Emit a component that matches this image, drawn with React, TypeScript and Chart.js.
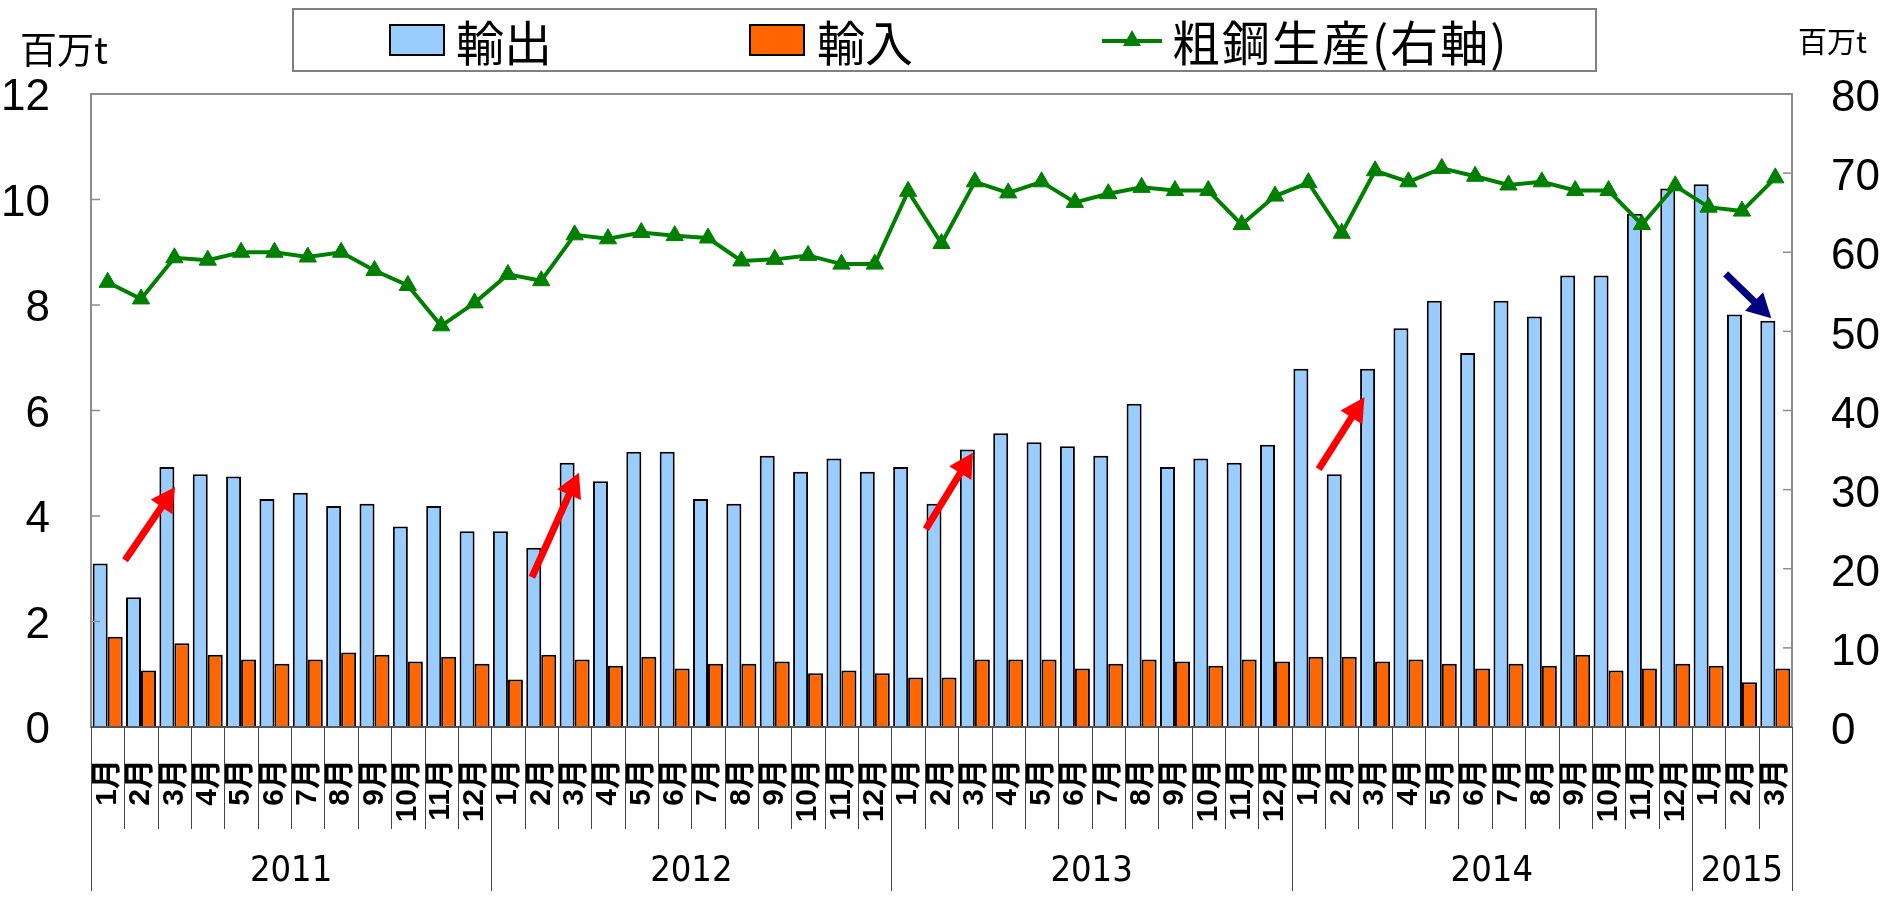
import React, { useEffect, useRef } from "react";
import { Chart, registerables } from "chart.js";

Chart.register(...registerables);

// ---------- data ----------
const monthLabels = [
  "1月", "2月", "3月", "4月", "5月", "6月", "7月", "8月", "9月", "10月", "11月", "12月",
  "1月", "2月", "3月", "4月", "5月", "6月", "7月", "8月", "9月", "10月", "11月", "12月",
  "1月", "2月", "3月", "4月", "5月", "6月", "7月", "8月", "9月", "10月", "11月", "12月",
  "1月", "2月", "3月", "4月", "5月", "6月", "7月", "8月", "9月", "10月", "11月", "12月",
  "1月", "2月", "3月",
];
const yearLabels = ["2011", "2012", "2013", "2014", "2015"];
const monthsInYear = [12, 12, 12, 12, 3];

const exportsData = [
  3.10, 2.46, 4.93, 4.79, 4.75, 4.32, 4.44, 4.19, 4.23, 3.80, 4.19, 3.71,
  3.71, 3.40, 5.01, 4.66, 5.22, 5.22, 4.32, 4.23, 5.14, 4.84, 5.09, 4.84,
  4.93, 4.23, 5.26, 5.57, 5.40, 5.32, 5.14, 6.13, 4.93, 5.09, 5.01, 5.35,
  6.79, 4.79, 6.79, 7.56, 8.08, 7.09, 8.08, 7.78, 8.56, 8.56, 9.73, 10.21,
  10.29, 7.82, 7.70,
];
const importsData = [
  1.71, 1.07, 1.59, 1.37, 1.28, 1.20, 1.28, 1.41, 1.37, 1.24, 1.33, 1.20,
  0.90, 1.37, 1.28, 1.16, 1.33, 1.11, 1.20, 1.20, 1.24, 1.02, 1.07, 1.02,
  0.94, 0.94, 1.28, 1.28, 1.28, 1.11, 1.20, 1.28, 1.24, 1.16, 1.28, 1.24,
  1.33, 1.33, 1.24, 1.28, 1.20, 1.11, 1.20, 1.16, 1.37, 1.07, 1.11, 1.20,
  1.16, 0.85, 1.11,
];
const steelData = [
  56.2, 54.1, 59.3, 59.0, 60.0, 60.0, 59.4, 60.0, 57.7, 55.8, 50.7, 53.6,
  57.2, 56.4, 62.2, 61.7, 62.5, 62.1, 61.8, 58.9, 59.1, 59.6, 58.5, 58.5,
  67.7, 61.1, 68.9, 67.5, 68.9, 66.3, 67.4, 68.2, 67.8, 67.8, 63.5, 67.1,
  68.8, 62.4, 70.3, 68.9, 70.6, 69.6, 68.5, 68.9, 67.8, 67.8, 63.5, 68.4,
  65.7, 65.2, 69.4,
];

// annotation arrows in data space: [fromIndex, fromValue, toIndex, toValue] (left axis)
const redArrows = [
  [0.52, 3.16, 2.02, 4.55],
  [12.72, 2.84, 14.13, 4.82],
  [24.53, 3.75, 25.94, 5.20],
  [36.31, 4.89, 37.68, 6.25],
];
const blueArrows = [[48.51, 8.59, 49.88, 7.75]];

const NUM_FONT = "'Liberation Sans', Arial, sans-serif";
const YEAR_FONT = "'DejaVu Sans Condensed', 'Liberation Sans', sans-serif";
const JP_FONT = "'Noto Sans CJK JP', sans-serif";

function drawArrow(ctx: CanvasRenderingContext2D, x1: number, y1: number, x2: number, y2: number, color: string) {
  const ang = Math.atan2(y2 - y1, x2 - x1);
  const headLen = 24;
  const headW = 13;
  const bx = x2 - headLen * Math.cos(ang);
  const by = y2 - headLen * Math.sin(ang);
  ctx.save();
  ctx.strokeStyle = color;
  ctx.fillStyle = color;
  ctx.lineWidth = 7;
  ctx.lineCap = "butt";
  ctx.beginPath();
  ctx.moveTo(x1, y1);
  ctx.lineTo(bx + 2 * Math.cos(ang), by + 2 * Math.sin(ang));
  ctx.stroke();
  ctx.beginPath();
  ctx.moveTo(x2, y2);
  ctx.lineTo(bx + headW * Math.sin(ang), by - headW * Math.cos(ang));
  ctx.lineTo(bx - headW * Math.sin(ang), by + headW * Math.cos(ang));
  ctx.closePath();
  ctx.fill();
  ctx.restore();
}

const decorPlugin = {
  id: "decor",
  afterDraw(chart: any) {
    const { ctx, chartArea: a, scales } = chart;
    const xs = scales.x;
    const ys = scales.y;
    const y1s = scales.y1;
    const n = monthLabels.length;
    const catW = (a.right - a.left) / n;
    ctx.save();
    // plot border
    ctx.strokeStyle = "#8c8c8c";
    ctx.lineWidth = 2;
    ctx.strokeRect(a.left, a.top, a.right - a.left, a.bottom - a.top);
    // inner tick marks
    ctx.lineWidth = 1.5;
    for (const t of ys.ticks) {
      const py = ys.getPixelForValue(t.value);
      ctx.beginPath();
      ctx.moveTo(a.left, py);
      ctx.lineTo(a.left + 9, py);
      ctx.stroke();
    }
    for (const t of y1s.ticks) {
      const py = y1s.getPixelForValue(t.value);
      ctx.beginPath();
      ctx.moveTo(a.right - 9, py);
      ctx.lineTo(a.right, py);
      ctx.stroke();
    }
    // bottom axis line
    ctx.strokeStyle = "#555";
    ctx.lineWidth = 2;
    ctx.beginPath();
    ctx.moveTo(a.left, a.bottom);
    ctx.lineTo(a.right, a.bottom);
    ctx.stroke();
    // category separators
    const yearStarts: number[] = [0];
    let acc = 0;
    for (const m of monthsInYear) {
      acc += m;
      yearStarts.push(acc);
    }
    ctx.strokeStyle = "#444";
    ctx.lineWidth = 1;
    for (let i = 0; i <= n; i++) {
      const px = Math.round(xs.getPixelForValue(0) - catW / 2 + i * catW) + 0.5;
      const isYear = yearStarts.includes(i);
      ctx.beginPath();
      ctx.moveTo(px, a.bottom);
      ctx.lineTo(px, isYear ? a.bottom + 164 : a.bottom + 102);
      ctx.stroke();
    }
    // year labels
    ctx.fillStyle = "#000";
    ctx.font = `36px ${YEAR_FONT}`;
    ctx.textAlign = "center";
    ctx.textBaseline = "middle";
    for (let k = 0; k < yearLabels.length; k++) {
      const s = yearStarts[k];
      const e = yearStarts[k + 1];
      const cx = xs.getPixelForValue(0) - catW / 2 + ((s + e) / 2) * catW;
      ctx.fillText(yearLabels[k], cx, a.bottom + 145);
    }
    // arrows
    const toPx = (arr: number[]) => [
      xs.getPixelForValue(0) + arr[0] * catW,
      ys.getPixelForValue(arr[1]),
      xs.getPixelForValue(0) + arr[2] * catW,
      ys.getPixelForValue(arr[3]),
    ];
    for (const ar of redArrows) {
      const p = toPx(ar);
      drawArrow(ctx, p[0], p[1], p[2], p[3], "#ff0000");
    }
    for (const ar of blueArrows) {
      const p = toPx(ar);
      drawArrow(ctx, p[0], p[1], p[2], p[3], "#000080");
    }
    ctx.restore();
  },
};

export default function App() {
  const ref = useRef<HTMLCanvasElement | null>(null);
  useEffect(() => {
    if (!ref.current) return;
    const chart = new Chart(ref.current, {
      type: "bar",
      data: {
        labels: monthLabels,
        datasets: [
          {
            type: "line",
            label: "粗鋼生産(右軸)",
            data: steelData,
            yAxisID: "y1",
            borderColor: "#008000",
            backgroundColor: "#008000",
            borderWidth: 4,
            pointStyle: "triangle",
            pointRadius: 10,
            pointBackgroundColor: "#008000",
            pointBorderColor: "#008000",
            pointBorderWidth: 1,
            tension: 0,
            order: 0,
          } as any,
          {
            type: "bar",
            label: "輸出",
            data: exportsData,
            yAxisID: "y",
            backgroundColor: "#99ccff",
            borderColor: "#000000",
            borderWidth: 2,
            categoryPercentage: 0.9,
            barPercentage: 1.0,
            order: 1,
          },
          {
            type: "bar",
            label: "輸入",
            data: importsData,
            yAxisID: "y",
            backgroundColor: "#ff6600",
            borderColor: "#000000",
            borderWidth: 2,
            categoryPercentage: 0.9,
            barPercentage: 1.0,
            order: 1,
          },
        ],
      },
      options: {
        animation: false,
        responsive: false,
        maintainAspectRatio: false,
        layout: { padding: { top: 94, bottom: 0, left: 0, right: 0 } },
        plugins: {
          legend: { display: false },
          tooltip: { enabled: false },
          title: { display: false },
        },
        scales: {
          x: {
            type: "category",
            grid: { display: false, drawTicks: false },
            border: { display: false },
            ticks: {
              autoSkip: false,
              minRotation: 90,
              maxRotation: 90,
              padding: 32,
              color: "#000",
              font: { size: 30, family: "'Liberation Sans', 'Noto Sans CJK JP', sans-serif", weight: "bold" },
            },
            afterFit: (s: any) => {
              s.height = 174;
            },
          },
          y: {
            type: "linear",
            position: "left",
            min: 0,
            max: 12,
            ticks: {
              stepSize: 2,
              padding: 41,
              labelOffset: 4,
              color: "#000",
              font: { size: 44, family: NUM_FONT },
            },
            grid: { display: false, drawTicks: false },
            border: { display: false },
            afterFit: (s: any) => {
              s.width = 91;
            },
          },
          y1: {
            type: "linear",
            position: "right",
            min: 0,
            max: 80,
            ticks: {
              stepSize: 10,
              padding: 39,
              labelOffset: 5,
              color: "#000",
              font: { size: 44, family: NUM_FONT },
            },
            grid: { display: false, drawTicks: false },
            border: { display: false },
            afterFit: (s: any) => {
              s.width = 91;
            },
          },
        },
      },
      plugins: [decorPlugin],
    });
    return () => chart.destroy();
  }, []);

  const legendText: React.CSSProperties = {
    position: "absolute",
    top: 0,
    height: 64,
    lineHeight: "60px",
    fontFamily: JP_FONT,
    fontSize: 48,
    color: "#000",
    whiteSpace: "nowrap",
  };

  return (
    <div style={{ position: "absolute", left: 0, top: 0, width: 1883, height: 901, background: "#fff" }}>
      <canvas ref={ref} width={1883} height={901} style={{ position: "absolute", left: 0, top: 0 }} />
      <div
        style={{
          position: "absolute",
          left: 292,
          top: 8,
          width: 1305,
          height: 64,
          border: "2px solid #808080",
          boxSizing: "border-box",
          background: "#fff",
        }}
      >
        <div style={{ position: "absolute", left: 95, top: 14, width: 56, height: 32, background: "#99ccff", border: "2px solid #000", boxSizing: "border-box" }} />
        <div style={{ ...legendText, left: 162 }}>輸出</div>
        <div style={{ position: "absolute", left: 455, top: 14, width: 56, height: 32, background: "#ff6600", border: "2px solid #000", boxSizing: "border-box" }} />
        <div style={{ ...legendText, left: 523 }}>輸入</div>
        <div style={{ position: "absolute", left: 808, top: 29, width: 60, height: 4, background: "#008000" }} />
        <div
          style={{
            position: "absolute",
            left: 829,
            top: 20,
            width: 0,
            height: 0,
            borderLeft: "9px solid transparent",
            borderRight: "9px solid transparent",
            borderBottom: "16px solid #008000",
          }}
        />
        <div style={{ ...legendText, left: 878, letterSpacing: 2 }}>粗鋼生産(右軸)</div>
      </div>
      <div style={{ position: "absolute", left: 20, top: 30, fontFamily: JP_FONT, fontSize: 37, lineHeight: "37px", color: "#000", whiteSpace: "nowrap" }}>百万t</div>
      <div style={{ position: "absolute", left: 1798, top: 26, fontFamily: JP_FONT, fontSize: 29, lineHeight: "29px", color: "#000", whiteSpace: "nowrap" }}>百万t</div>
    </div>
  );
}
